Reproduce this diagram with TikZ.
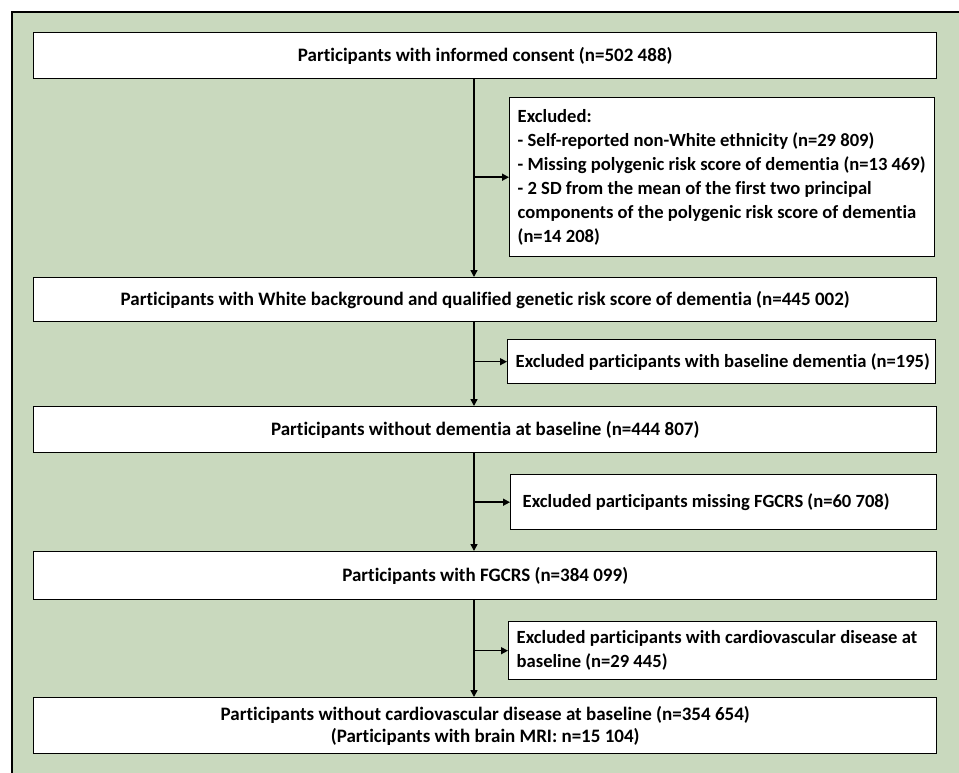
\documentclass[tikz,border=0pt]{standalone}
\usepackage{fontspec}
\setmainfont{Carlito}[Ligatures=NoCommon]
\usetikzlibrary{arrows.meta}
\definecolor{panelgreen}{RGB}{201,217,190}
\newcommand{\boxfont}{\bfseries\fontsize{19}{24}\selectfont}
\newcommand{\exclfont}{\bfseries\fontsize{18.6}{24}\selectfont}
\hbadness=10000 \hfuzz=20pt

\begin{document}
\begin{tikzpicture}[x=1pt,y=-1pt,
	mainbox/.style={draw=black,fill=white,line width=1.4pt,anchor=north west,minimum width=903pt,minimum height=#1,inner sep=0pt,align=center,font=\boxfont},
	exclbox/.style 2 args={draw=black,fill=white,line width=1.4pt,anchor=north west,text width=#1,minimum height=#2,inner xsep=8pt,inner ysep=0pt,align=flush left,font=\exclfont},
	flow/.style={line width=1.5pt,-{Triangle[length=7pt,width=7pt]}}]
			%%%%% START %%%%%
			\useasboundingbox (0,0) rectangle (959,772);
			\clip (0,0) rectangle (959,772);
			\draw[fill=panelgreen,line width=1.6pt] (12,12) rectangle (980,800);
			
			% main column
			\node[mainbox=46pt] (consent) at (33,32) {Participants with informed consent (n=502 488)};
			\node[mainbox=44pt] (white) at (33,277) {Participants with White background and qualified genetic risk score of dementia (n=445 002)};
			\node[mainbox=46pt] (nodem) at (33,406) {Participants without dementia at baseline (n=444 807)};
			\node[mainbox=48pt] (fgcrs) at (33,551) {Participants with FGCRS (n=384 099)};
			\node[mainbox=56pt] (final) at (33,697) {Participants without cardiovascular disease at baseline (n=354 654)\\[-2pt](Participants with brain MRI: n=15 104)};
			
			% exclusions
			\node[exclbox={409pt}{159pt}] (excl1) at (509,97) {\mbox{Excluded:}\\
				\mbox{- Self-reported non-White ethnicity (n=29 809)}\\
				\mbox{- Missing polygenic risk score of dementia (n=13 469)}\\
				\mbox{- 2 SD from the mean of the first two principal}\\
				\mbox{components of the polygenic risk score of dementia}\\
				\mbox{(n=14 208)}};
			\node[exclbox={412pt}{44pt}] (excl2) at (507,339) {\mbox{Excluded participants with baseline dementia (n=195)}};
			\node[exclbox={410pt}{55pt}] (excl3) at (510,474) {\mbox{\hspace{4pt}Excluded participants missing FGCRS (n=60 708)}};
			\node[exclbox={412pt}{58pt}] (excl4) at (508,621) {\mbox{Excluded participants with cardiovascular disease at}\\\mbox{baseline (n=29 445)}};
			
			% connectors
			\coordinate (trunk) at (474,0);
			\draw[flow] (consent.south -| trunk) -- (white.north -| trunk);
			\draw[flow] (white.south -| trunk) -- (nodem.north -| trunk);
			\draw[flow] (nodem.south -| trunk) -- (fgcrs.north -| trunk);
			\draw[flow] (fgcrs.south -| trunk) -- (final.north -| trunk);
			\foreach \e in {excl1,excl2,excl3,excl4}
				\draw[flow] (\e.west -| trunk) -- (\e.west);
			%%%%% END %%%%%
\end{tikzpicture}
\end{document}
